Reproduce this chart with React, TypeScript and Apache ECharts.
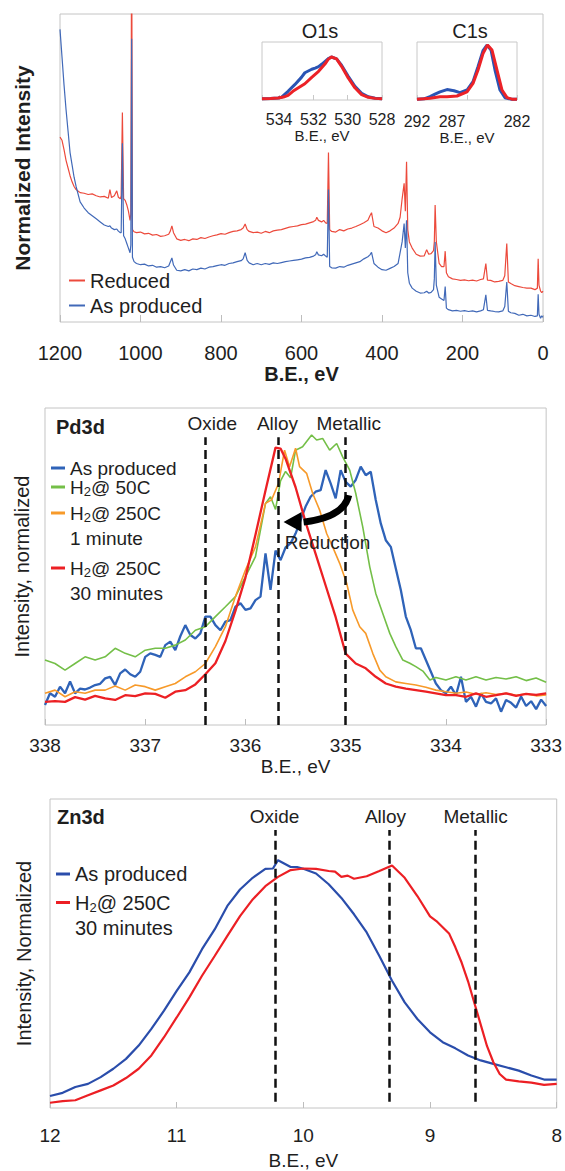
import React, { useEffect, useRef } from 'react';
import * as echarts from 'echarts';

const FONT = "'Liberation Sans', Arial, Helvetica, sans-serif";
const TXT = '#1e1e1e';

// ---------------- Survey spectrum ----------------
const surveyBE = [
  1200, 1195, 1190, 1185, 1180, 1175, 1170, 1165, 1160, 1150, 1140, 1130, 1120, 1110, 1100,
  1090, 1080, 1076, 1072, 1065, 1059, 1055, 1050, 1048, 1045, 1042, 1038, 1034, 1030, 1026, 1024, 1022, 1020,
  1016, 1010, 1000, 990, 980, 970, 960, 950, 940, 930, 926, 922, 918,
  910, 900, 890, 880, 870, 860, 850, 840, 830, 820, 810, 800, 790, 780, 770, 760, 750, 745, 740, 735,
  730, 720, 710, 700, 690, 680, 670, 660, 650, 640, 630, 620, 610, 600, 590, 580, 570, 565, 562, 558, 550, 545, 540, 536, 533, 530,
  525, 515, 505, 495, 485, 475, 465, 455, 445, 435, 430, 426, 420, 410, 400, 390, 380, 370, 360, 355, 350, 345, 342, 339, 336, 332,
  325, 315, 305, 295, 289, 284, 278, 272, 270, 268, 265, 258, 252, 246, 243, 240, 235, 225, 215, 205, 195, 185, 175, 165, 155, 148,
  142, 138, 130, 120, 110, 100, 95, 90, 86, 80, 70, 60, 50, 40, 30, 20, 14, 12, 10, 6, 3, 0,
];
const surveyReduced = [
  0.60, 0.59, 0.56, 0.525, 0.50, 0.475, 0.455, 0.44, 0.43, 0.42, 0.418, 0.414, 0.416, 0.41, 0.406,
  0.408, 0.402, 0.43, 0.404, 0.41, 0.426, 0.405, 0.40, 0.41, 0.68, 0.40, 0.395, 0.38, 0.36, 0.33, 0.35, 1.3, 0.30,
  0.293, 0.29, 0.292, 0.286, 0.288, 0.282, 0.284, 0.278, 0.28, 0.285, 0.295, 0.312, 0.29,
  0.27, 0.265, 0.268, 0.264, 0.27, 0.268, 0.274, 0.271, 0.276, 0.28, 0.283, 0.287, 0.285, 0.29, 0.294, 0.296, 0.30, 0.305, 0.318, 0.30,
  0.294, 0.29, 0.292, 0.288, 0.294, 0.29, 0.296, 0.298, 0.30, 0.304, 0.308, 0.31, 0.312, 0.316, 0.318, 0.322, 0.326, 0.33, 0.34, 0.33, 0.325, 0.33, 0.322, 0.32, 0.55, 0.30,
  0.294, 0.292, 0.30, 0.296, 0.302, 0.305, 0.31, 0.316, 0.322, 0.33, 0.345, 0.355, 0.31, 0.305, 0.296, 0.29, 0.296, 0.305, 0.32, 0.34, 0.40, 0.45, 0.36, 0.52, 0.30, 0.26,
  0.24, 0.22, 0.214, 0.215, 0.235, 0.22, 0.222, 0.232, 0.26, 0.38, 0.26, 0.19, 0.18, 0.18, 0.23, 0.16, 0.147, 0.14, 0.138, 0.135, 0.137, 0.134, 0.136, 0.133, 0.138, 0.14,
  0.19, 0.136, 0.135, 0.13, 0.132, 0.135, 0.15, 0.255, 0.13, 0.125, 0.118, 0.115, 0.112, 0.11, 0.11, 0.105, 0.11, 0.205, 0.12, 0.10, 0.095, 0.10,
];
const surveyAsProduced = [
  0.95, 0.86, 0.77, 0.69, 0.62, 0.55, 0.51, 0.47, 0.44, 0.39, 0.37, 0.355, 0.345, 0.335, 0.325,
  0.315, 0.31, 0.312, 0.305, 0.30, 0.302, 0.295, 0.29, 0.29, 0.58, 0.28, 0.27, 0.255, 0.24, 0.225, 0.25, 0.92, 0.21,
  0.196, 0.19, 0.186, 0.188, 0.182, 0.184, 0.178, 0.18, 0.176, 0.182, 0.195, 0.208, 0.185,
  0.168, 0.166, 0.17, 0.166, 0.172, 0.17, 0.175, 0.172, 0.178, 0.18, 0.183, 0.186, 0.184, 0.19, 0.192, 0.196, 0.199, 0.205, 0.225, 0.20,
  0.192, 0.186, 0.19, 0.186, 0.19, 0.187, 0.192, 0.19, 0.193, 0.196, 0.198, 0.20, 0.202, 0.204, 0.208, 0.21, 0.214, 0.218, 0.228, 0.218, 0.215, 0.22, 0.214, 0.21, 0.43, 0.18,
  0.176, 0.175, 0.18, 0.178, 0.184, 0.188, 0.192, 0.196, 0.205, 0.212, 0.218, 0.226, 0.19, 0.178, 0.17, 0.168, 0.174, 0.18, 0.19, 0.225, 0.26, 0.32, 0.24, 0.33, 0.16, 0.126,
  0.11, 0.10, 0.094, 0.095, 0.10, 0.094, 0.096, 0.105, 0.14, 0.26, 0.12, 0.08, 0.075, 0.07, 0.115, 0.045, 0.04, 0.036, 0.038, 0.035, 0.037, 0.034, 0.036, 0.033, 0.036, 0.04,
  0.088, 0.038, 0.036, 0.034, 0.033, 0.036, 0.05, 0.13, 0.035, 0.03, 0.028, 0.022, 0.025, 0.02, 0.022, 0.018, 0.02, 0.09, 0.025, 0.012, 0.02, 0.015,
];
const surveyTicks = { min: 0, max: 1200, interval: 200 };

// ---------------- Insets ----------------
const o1sAsProduced = [
  [535.0, 0.023], [534.5, 0.025], [534.06, 0.035], [533.87, 0.046], [533.48, 0.15], [533.09, 0.264], [532.7, 0.39],
  [532.5, 0.47], [532.3, 0.50], [532.1, 0.53], [531.9, 0.55], [531.7, 0.575], [531.5, 0.62], [531.3, 0.67], [531.1, 0.72],
  [530.95, 0.741], [530.65, 0.71], [530.36, 0.60], [529.97, 0.41], [529.58, 0.235], [529.19, 0.115], [528.8, 0.055], [528.4, 0.03], [528.0, 0.023],
];
const o1sReduced = [
  [535.0, 0.023], [534.5, 0.025], [534.06, 0.035], [533.75, 0.05], [533.48, 0.08], [533.2, 0.15], [532.9, 0.207], [532.5, 0.28],
  [532.1, 0.39], [531.7, 0.494], [531.33, 0.62], [531.14, 0.70], [530.95, 0.741], [530.65, 0.71], [530.36, 0.58], [529.97, 0.38],
  [529.58, 0.21], [529.19, 0.092], [528.8, 0.046], [528.4, 0.028], [528.0, 0.023],
];
const c1sAsProduced = [
  [292, 0.011], [291.3, 0.02], [290.7, 0.057], [290.2, 0.10], [289.7, 0.14], [289.0, 0.18], [288.3, 0.16], [287.7, 0.126],
  [287.0, 0.172], [286.4, 0.316], [285.9, 0.575], [285.4, 0.85], [285.0, 0.948], [284.6, 0.862], [284.2, 0.517], [283.7, 0.172],
  [283.2, 0.04], [282.6, 0.015], [282, 0.011],
];
const c1sReduced = [
  [292, 0.011], [291.3, 0.02], [290.7, 0.029], [289.7, 0.057], [289.0, 0.057], [288.0, 0.069], [287.0, 0.14], [286.4, 0.287],
  [285.9, 0.517], [285.4, 0.80], [284.95, 0.948], [284.5, 0.862], [284.0, 0.517], [283.5, 0.172], [283.0, 0.04], [282.5, 0.015], [282, 0.011],
];

// ---------------- Pd3d ----------------
const pdAsProduced = [
  [338.0, 0.063], [337.95, 0.100], [337.9, 0.089], [337.85, 0.121], [337.8, 0.100], [337.75, 0.137], [337.7, 0.100], [337.65, 0.115],
  [337.6, 0.112], [337.55, 0.118], [337.5, 0.126], [337.45, 0.13], [337.4, 0.147], [337.35, 0.152], [337.3, 0.126], [337.25, 0.163],
  [337.2, 0.175], [337.15, 0.16], [337.1, 0.152], [337.05, 0.168], [337.0, 0.215], [336.95, 0.226], [336.9, 0.221], [336.85, 0.215],
  [336.8, 0.252], [336.75, 0.263], [336.7, 0.236], [336.65, 0.28], [336.6, 0.315], [336.55, 0.284], [336.5, 0.273], [336.45, 0.289],
  [336.4, 0.342], [336.35, 0.342], [336.3, 0.315], [336.25, 0.299], [336.2, 0.326], [336.15, 0.331], [336.1, 0.373], [336.05, 0.384],
  [336.0, 0.363], [335.95, 0.368], [335.9, 0.394], [335.85, 0.405], [335.8, 0.541], [335.75, 0.426], [335.7, 0.55], [335.65, 0.52],
  [335.6, 0.56], [335.55, 0.573], [335.5, 0.604], [335.45, 0.646], [335.4, 0.689], [335.35, 0.72], [335.3, 0.736], [335.25, 0.741],
  [335.2, 0.804], [335.15, 0.762], [335.1, 0.715], [335.05, 0.804], [335.0, 0.767], [334.95, 0.752], [334.9, 0.773], [334.85, 0.815],
  [334.8, 0.788], [334.75, 0.799], [334.7, 0.710], [334.65, 0.636], [334.6, 0.583], [334.55, 0.562], [334.5, 0.494], [334.45, 0.426],
  [334.4, 0.342], [334.35, 0.299], [334.3, 0.242], [334.25, 0.242], [334.2, 0.205], [334.15, 0.168], [334.1, 0.131], [334.05, 0.110],
  [334.0, 0.100], [333.95, 0.121], [333.9, 0.094], [333.85, 0.152], [333.8, 0.073], [333.75, 0.089], [333.7, 0.058], [333.65, 0.100],
  [333.6, 0.073], [333.55, 0.068], [333.5, 0.084], [333.45, 0.042], [333.4, 0.079], [333.35, 0.07], [333.3, 0.055], [333.25, 0.09],
  [333.2, 0.06], [333.15, 0.075], [333.1, 0.05], [333.05, 0.08], [333.0, 0.06],
];
const pdH2At50C = [
  [338.0, 0.205], [337.9, 0.194], [337.8, 0.173], [337.7, 0.194], [337.6, 0.215], [337.5, 0.205], [337.4, 0.215], [337.3, 0.242],
  [337.2, 0.226], [337.1, 0.215], [337.0, 0.236], [336.9, 0.242], [336.8, 0.242], [336.7, 0.252], [336.6, 0.268], [336.5, 0.299],
  [336.4, 0.310], [336.3, 0.342], [336.2, 0.373], [336.1, 0.405], [336.0, 0.468], [335.9, 0.531], [335.8, 0.699], [335.75, 0.72],
  [335.7, 0.68], [335.65, 0.77], [335.6, 0.80], [335.55, 0.78], [335.5, 0.867], [335.43, 0.878], [335.34, 0.915], [335.29, 0.899],
  [335.23, 0.904], [335.16, 0.867], [335.09, 0.888], [335.03, 0.846], [334.96, 0.804], [334.9, 0.731], [334.83, 0.625], [334.76, 0.499],
  [334.7, 0.415], [334.63, 0.352], [334.56, 0.289], [334.5, 0.247], [334.43, 0.205], [334.36, 0.195], [334.3, 0.184], [334.23, 0.17],
  [334.16, 0.142], [334.1, 0.15], [334.0, 0.142], [333.9, 0.152], [333.8, 0.142], [333.7, 0.152], [333.6, 0.142], [333.5, 0.150],
  [333.4, 0.145], [333.3, 0.152], [333.2, 0.140], [333.1, 0.148], [333.0, 0.135],
];
const pdH2At250C1min = [
  [338.0, 0.100], [337.9, 0.110], [337.8, 0.089], [337.7, 0.105], [337.6, 0.100], [337.5, 0.110], [337.4, 0.110], [337.3, 0.123],
  [337.2, 0.110], [337.1, 0.126], [337.0, 0.121], [336.9, 0.110], [336.8, 0.121], [336.7, 0.131], [336.6, 0.152], [336.5, 0.168],
  [336.4, 0.194], [336.3, 0.247], [336.2, 0.310], [336.1, 0.405], [336.0, 0.489], [335.9, 0.562], [335.8, 0.699], [335.74, 0.71],
  [335.67, 0.762], [335.61, 0.867], [335.56, 0.815], [335.5, 0.873], [335.46, 0.815], [335.39, 0.794], [335.33, 0.731], [335.26, 0.678],
  [335.19, 0.604], [335.13, 0.562], [335.06, 0.51], [334.99, 0.447], [334.93, 0.363], [334.86, 0.31], [334.8, 0.289], [334.73, 0.226],
  [334.66, 0.173], [334.6, 0.152], [334.5, 0.136], [334.4, 0.131], [334.3, 0.126], [334.2, 0.119], [334.1, 0.110], [334.0, 0.105],
  [333.9, 0.100], [333.8, 0.104], [333.7, 0.097], [333.6, 0.102], [333.5, 0.096], [333.4, 0.100], [333.3, 0.094], [333.2, 0.098],
  [333.1, 0.092], [333.0, 0.095],
];
const pdH2At250C30min = [
  [338.0, 0.073], [337.9, 0.075], [337.8, 0.073], [337.7, 0.088], [337.6, 0.080], [337.5, 0.092], [337.4, 0.084], [337.3, 0.079],
  [337.2, 0.094], [337.1, 0.091], [337.0, 0.100], [336.9, 0.098], [336.8, 0.086], [336.7, 0.105], [336.6, 0.110], [336.5, 0.128],
  [336.4, 0.160], [336.3, 0.195], [336.2, 0.265], [336.1, 0.360], [336.0, 0.465], [335.9, 0.600], [335.8, 0.740], [335.7, 0.875],
  [335.65, 0.872], [335.6, 0.84], [335.5, 0.75], [335.4, 0.64], [335.3, 0.54], [335.2, 0.44], [335.1, 0.34], [335.0, 0.225],
  [334.9, 0.194], [334.8, 0.179], [334.7, 0.152], [334.6, 0.131], [334.5, 0.121], [334.4, 0.115], [334.3, 0.110], [334.2, 0.105],
  [334.1, 0.100], [334.0, 0.094], [333.9, 0.094], [333.8, 0.089], [333.7, 0.100], [333.6, 0.089], [333.5, 0.094], [333.4, 0.100],
  [333.3, 0.092], [333.2, 0.098], [333.1, 0.095], [333.0, 0.100],
];
const pdMarkers = [336.4, 335.67, 335.0];
const pdMarkerNames = ['Oxide', 'Alloy', 'Metallic'];
const pdMarkerTop = 0.908;

// ---------------- Zn3d ----------------
const znAsProduced = [
  [12.0, 0.039], [11.9, 0.049], [11.8, 0.068], [11.7, 0.078], [11.6, 0.100], [11.5, 0.127], [11.4, 0.159], [11.3, 0.202],
  [11.2, 0.256], [11.1, 0.315], [11.0, 0.379], [10.9, 0.439], [10.8, 0.514], [10.7, 0.578], [10.6, 0.654], [10.5, 0.707],
  [10.4, 0.745], [10.3, 0.774], [10.24, 0.775], [10.2, 0.802], [10.1, 0.78], [10.05, 0.78], [10.0, 0.774], [9.9, 0.759],
  [9.8, 0.724], [9.7, 0.680], [9.6, 0.627], [9.5, 0.568], [9.4, 0.492], [9.3, 0.412], [9.2, 0.342], [9.1, 0.288],
  [9.0, 0.245], [8.9, 0.213], [8.8, 0.193], [8.7, 0.170], [8.6, 0.154], [8.5, 0.143], [8.4, 0.132], [8.3, 0.121],
  [8.2, 0.105], [8.1, 0.092], [8.0, 0.092],
];
const znH2At250C30min = [
  [12.0, 0.017], [11.9, 0.022], [11.8, 0.025], [11.7, 0.041], [11.6, 0.057], [11.5, 0.073], [11.4, 0.097], [11.3, 0.127],
  [11.2, 0.170], [11.1, 0.229], [11.0, 0.293], [10.9, 0.358], [10.8, 0.428], [10.7, 0.492], [10.6, 0.557], [10.5, 0.621],
  [10.4, 0.675], [10.3, 0.718], [10.2, 0.748], [10.1, 0.770], [10.0, 0.775], [9.9, 0.774], [9.8, 0.767], [9.75, 0.765],
  [9.7, 0.748], [9.65, 0.752], [9.6, 0.742], [9.5, 0.750], [9.4, 0.767], [9.3, 0.785], [9.2, 0.745], [9.1, 0.686],
  [9.0, 0.62], [8.95, 0.605], [8.9, 0.585], [8.85, 0.565], [8.8, 0.52], [8.75, 0.47], [8.7, 0.41], [8.65, 0.34],
  [8.6, 0.27], [8.55, 0.20], [8.5, 0.148], [8.45, 0.11], [8.4, 0.092], [8.3, 0.086], [8.2, 0.082], [8.1, 0.075], [8.0, 0.078],
];
const znMarkers = [10.22, 9.32, 8.64];
const znMarkerNames = ['Oxide', 'Alloy', 'Metallic'];
const znMarkerTop = 0.90;
const znMarkerBottom = 0.02;

// annotation anchors (data coordinates of the Pd3d panel)
const arrowTail = [334.97, 0.725];
const arrowCtrl = [335.02, 0.655];
const arrowHeadBase = [335.44, 0.64];
const arrowTip = [335.62, 0.64];
const reductionLabelAt = [335.18, 0.575];

const legendLabel = (name: string) => name.split('|')[1].replace('H2', 'H{sub|2}');

function legendItem(name: string, left: number, top: number, fontSize: number, iw: number, ih: number, multi: boolean) {
  const lh = 25;
  return {
    show: true,
    orient: 'vertical',
    left,
    top,
    padding: 0,
    itemGap: 0,
    icon: 'rect',
    itemWidth: iw,
    itemHeight: ih,
    selectedMode: false,
    data: [name],
    formatter: legendLabel,
    textStyle: {
      fontFamily: FONT,
      fontSize,
      color: TXT,
      lineHeight: lh,
      padding: multi ? [lh, 0, 0, 0] : 0,
      rich: {
        sub: { fontFamily: FONT, fontSize: 13, lineHeight: 13, padding: [9, 0, 0, 0], color: TXT },
      },
    },
  };
}

function valueX(gridIndex: number, min: number, max: number, interval: number, fontSize: number, margin: number, extra: any = {}) {
  return {
    type: 'value',
    gridIndex,
    min,
    max,
    interval,
    inverse: true,
    axisLine: { show: false },
    axisTick: { show: true, inside: true, length: 6, lineStyle: { color: '#bdbdbd' } },
    splitLine: { show: false },
    axisLabel: { fontFamily: FONT, fontSize, color: TXT, margin, formatter: (v: number) => String(v) },
    nameLocation: 'middle',
    nameTextStyle: { fontFamily: FONT, fontSize, color: TXT },
    ...extra,
  };
}

function valueY(gridIndex: number, name: string, nameGap: number, nameTextStyle: any) {
  return {
    type: 'value',
    gridIndex,
    min: 0,
    max: 1,
    name,
    nameLocation: 'middle',
    nameGap,
    nameTextStyle: { fontFamily: FONT, color: TXT, ...nameTextStyle },
    axisLine: { show: false },
    axisTick: { show: false },
    axisLabel: { show: false },
    splitLine: { show: false },
  };
}

function lineSeries(name: string, idx: number, data: any, color: string, width: number, extra: any = {}) {
  return {
    type: 'line',
    name,
    xAxisIndex: idx,
    yAxisIndex: idx,
    data,
    showSymbol: false,
    symbol: 'none',
    color,
    lineStyle: { color, width },
    ...extra,
  };
}

function markLines(xs: number[], names: string[], top: number, bottom: number, offsets: number[]) {
  return {
    silent: true,
    symbol: ['none', 'none'],
    lineStyle: { type: [9, 5], color: '#111', width: 2.5 },
    label: { show: true, position: 'end', formatter: '{b}', fontFamily: FONT, fontSize: 19, color: TXT, distance: 4 },
    data: xs.map((x, i) => [
      { coord: [x, bottom], name: names[i], label: { offset: [offsets[i], 0] } },
      { coord: [x, top] },
    ]),
  };
}

export default function App() {
  const ref = useRef<HTMLDivElement>(null);
  useEffect(() => {
    const chart = echarts.init(ref.current as HTMLDivElement, null, { renderer: 'svg' });
    const option: any = {
      animation: false,
      backgroundColor: '#ffffff',
      textStyle: { fontFamily: FONT },
      grid: [
        { left: 60, top: 14, width: 483, height: 308, show: true, borderColor: '#c4c4c4', borderWidth: 1, backgroundColor: 'transparent' },
        { left: 262, top: 42, width: 120, height: 58, show: true, borderColor: '#c8c8c8', borderWidth: 1, backgroundColor: '#ffffff' },
        { left: 417, top: 42, width: 100, height: 58, show: true, borderColor: '#c8c8c8', borderWidth: 1, backgroundColor: '#ffffff' },
        { left: 45, top: 408, width: 502, height: 317, show: true, borderColor: '#c4c4c4', borderWidth: 1, backgroundColor: 'transparent' },
        { left: 50, top: 799, width: 507, height: 310, show: true, borderColor: '#c4c4c4', borderWidth: 1, backgroundColor: 'transparent' },
      ],
      xAxis: [
        valueX(0, surveyTicks.min, surveyTicks.max, surveyTicks.interval, 20, 21, {
          name: 'B.E., eV', nameGap: 42,
          nameTextStyle: { fontFamily: FONT, fontSize: 20, fontWeight: 'bold', color: TXT },
          axisTick: { show: true, inside: true, length: 7, lineStyle: { color: '#bdbdbd' } },
        }),
        valueX(1, 528, 535, 2, 16, 11, {
          name: 'B.E., eV', nameGap: 22,
          nameTextStyle: { fontFamily: FONT, fontSize: 15, color: TXT },
          axisTick: { show: true, inside: true, length: 5, lineStyle: { color: '#c8c8c8' } },
          axisLabel: {
            fontFamily: FONT, fontSize: 16, color: TXT, margin: 11,
            formatter: (v: number) => (v % 2 === 0 ? String(v) : ''),
          },
        }),
        valueX(2, 282, 292, 5, 16, 13, {
          name: 'B.E., eV', nameGap: 29,
          nameTextStyle: { fontFamily: FONT, fontSize: 15, color: TXT },
          axisTick: { show: true, inside: true, length: 5, lineStyle: { color: '#c8c8c8' } },
          axisLabel: {
            fontFamily: FONT, fontSize: 16, color: TXT, margin: 13,
            formatter: (v: number) => (v === 287 ? '{s|287}' : String(v)),
            rich: { s: { fontFamily: FONT, fontSize: 16, color: TXT, padding: [0, 30, 0, 0] } },
          },
        }),
        valueX(3, 333, 338, 1, 19, 11, { name: 'B.E., eV', nameGap: 32 }),
        valueX(4, 8, 12, 1, 19, 18, { name: 'B.E., eV', nameGap: 43 }),
      ],
      yAxis: [
        valueY(0, 'Normalized Intensity', 27, { fontSize: 21, fontWeight: 'bold' }),
        { ...valueY(1, '', 0, {}), show: false },
        { ...valueY(2, '', 0, {}), show: false },
        valueY(3, 'Intensity, normalized', 13, { fontSize: 20 }),
        valueY(4, 'Intensity, Normalized', 16, { fontSize: 20 }),
      ],
      legend: [
        legendItem('S|Reduced', 69, 268, 20, 16, 2, false),
        legendItem('S|As produced', 69, 293, 20, 16, 2, false),
        legendItem('P|As produced', 51, 455.5, 19, 14, 3, false),
        legendItem('P|H2@ 50C', 51, 474.5, 19, 14, 3, false),
        legendItem('P|H2@ 250C\n1 minute', 51, 475.5, 19, 14, 3, true),
        legendItem('P|H2@ 250C\n30 minutes', 51, 530.5, 19, 14, 3, true),
        legendItem('Z|As produced', 56, 861.5, 20, 14, 3, false),
        legendItem('Z|H2@ 250C\n30 minutes', 56, 865, 20, 14, 3, true),
      ],
      series: [
        lineSeries('S|Reduced', 0, surveyBE.map((b, i) => [b, surveyReduced[i]]), '#ec4a3c', 1.2),
        lineSeries('S|As produced', 0, surveyBE.map((b, i) => [b, surveyAsProduced[i]]), '#4169b8', 1.2),
        lineSeries('I|O1s as produced', 1, o1sAsProduced, '#2a54b4', 3),
        lineSeries('I|O1s reduced', 1, o1sReduced, '#ec2227', 3),
        lineSeries('I|C1s as produced', 2, c1sAsProduced, '#2a54b4', 3),
        lineSeries('I|C1s reduced', 2, c1sReduced, '#ec2227', 3),
        lineSeries('P|As produced', 3, pdAsProduced, '#2f63b8', 2.3, {
          markLine: markLines(pdMarkers, pdMarkerNames, pdMarkerTop, 0, [7, -1, 3]),
        }),
        lineSeries('P|H2@ 50C', 3, pdH2At50C, '#74bf48', 1.6),
        lineSeries('P|H2@ 250C\n1 minute', 3, pdH2At250C1min, '#f79a2a', 1.6),
        lineSeries('P|H2@ 250C\n30 minutes', 3, pdH2At250C30min, '#ec2024', 2.3),
        lineSeries('Z|As produced', 4, znAsProduced, '#2a4dab', 2.2, {
          markLine: markLines(znMarkers, znMarkerNames, znMarkerTop, znMarkerBottom, [-1, -4, 0]),
        }),
        lineSeries('Z|H2@ 250C\n30 minutes', 4, znH2At250C30min, '#ec1f24', 2.2),
      ],
    };
    chart.setOption(option);

    const px = (pt: number[]) => chart.convertToPixel({ gridIndex: 3 }, pt) as number[];
    const tail = px(arrowTail);
    const ctrl = px(arrowCtrl);
    const base = px(arrowHeadBase);
    const tip = px(arrowTip);
    const lab = px(reductionLabelAt);
    const o1sTop = chart.convertToPixel({ gridIndex: 1 }, [531.5, 1]) as number[];
    const c1sTop = chart.convertToPixel({ gridIndex: 2 }, [287, 1]) as number[];

    chart.setOption({
      graphic: [
        {
          type: 'bezierCurve',
          shape: { x1: tail[0], y1: tail[1], cpx1: ctrl[0], cpy1: ctrl[1], x2: base[0] + 2, y2: base[1] },
          style: { stroke: '#000', lineWidth: 7, fill: 'none' },
          silent: true,
          z: 50,
        },
        {
          type: 'polygon',
          shape: { points: [[tip[0], tip[1]], [base[0], base[1] - 10], [base[0], base[1] + 10]] },
          style: { fill: '#000' },
          silent: true,
          z: 50,
        },
        {
          type: 'text',
          x: lab[0],
          y: lab[1],
          style: { text: 'Reduction', fontFamily: FONT, fontSize: 19, fill: TXT, align: 'center', verticalAlign: 'middle' },
          silent: true,
          z: 50,
        },
        {
          type: 'text',
          x: o1sTop[0] - 2,
          y: o1sTop[1] - 11,
          style: { text: 'O1s', fontFamily: FONT, fontSize: 20, fill: TXT, align: 'center', verticalAlign: 'middle' },
          silent: true,
        },
        {
          type: 'text',
          x: c1sTop[0] + 3,
          y: c1sTop[1] - 11,
          style: { text: 'C1s', fontFamily: FONT, fontSize: 20, fill: TXT, align: 'center', verticalAlign: 'middle' },
          silent: true,
        },
        {
          type: 'text',
          x: 56,
          y: 427,
          style: { text: 'Pd3d', fontFamily: FONT, fontSize: 20, fontWeight: 'bold', fill: TXT, align: 'left', verticalAlign: 'middle' },
          silent: true,
        },
        {
          type: 'text',
          x: 57,
          y: 817,
          style: { text: 'Zn3d', fontFamily: FONT, fontSize: 20, fontWeight: 'bold', fill: TXT, align: 'left', verticalAlign: 'middle' },
          silent: true,
        },
      ],
    });
    return () => chart.dispose();
  }, []);
  return (
    <div
      ref={ref}
      style={{ position: 'absolute', left: 0, top: 0, width: 565, height: 1171, background: '#fff' }}
    />
  );
}
